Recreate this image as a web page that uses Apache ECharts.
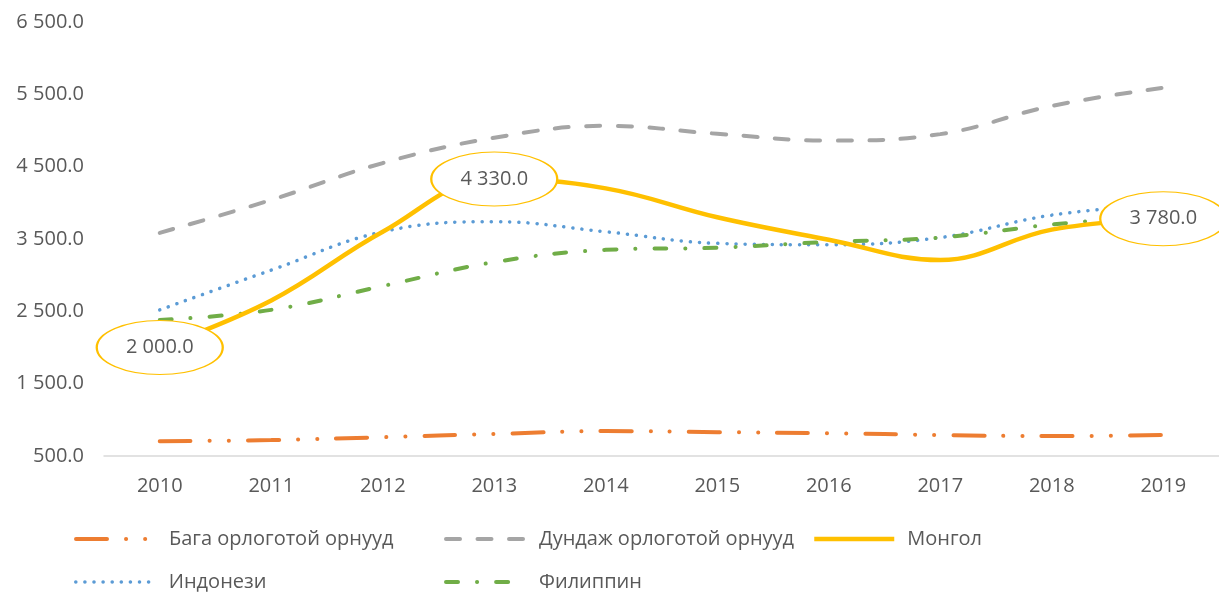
<!DOCTYPE html>
<html>
<head>
<meta charset="utf-8">
<script src="https://cdn.jsdelivr.net/npm/echarts@6/dist/echarts.min.js"></script>
<style>
  html, body { margin: 0; padding: 0; background: #fff; }
  #chart { width: 1219px; height: 594px; }
</style>
</head>
<body>
<div id="chart"></div>
<script>
var years = ["2010", "2011", "2012", "2013", "2014", "2015", "2016", "2017", "2018", "2019"];
var lowIncome = [705, 720, 760, 805, 845, 830, 815, 790, 775, 790];
var middleIncome = [3585, 4040, 4550, 4900, 5065, 4955, 4860, 4950, 5340, 5590];
var mongolia = [2000, 2650, 3600, 4330, 4200, 3800, 3490, 3210, 3630, 3780];
var indonesia = [2520, 3070, 3600, 3740, 3600, 3440, 3420, 3520, 3830, 3980];
var philippines = [2380, 2520, 2850, 3180, 3350, 3380, 3460, 3520, 3700, 3830];
var labelledIdx = [0, 3, 9];
var names = ["Бага орлоготой орнууд", "Дундаж орлоготой орнууд", "Монгол", "Индонези", "Филиппин"];

var FONT = "Open Sans";
var TXT = "#595959";

// 6 500.0 style numbers
function fmt(v) {
  var s = Number(v).toFixed(1).split(".");
  return s[0].replace(/\B(?=(\d{3})+(?!\d))/g, " ") + "." + s[1];
}

var chart = echarts.init(document.getElementById("chart"));

// one legend per entry so each sits in its own column like the original
function mkLegend(name, left, top, lw) {
  return {
    data: [name],
    left: left,
    top: top,
    itemWidth: 80,
    itemHeight: 14,
    itemGap: 0,
    padding: 0,
    itemStyle: { opacity: 0 },
    lineStyle: { width: lw },
    textStyle: { fontFamily: FONT, fontSize: 20, color: TXT, padding: [0, 0, 0, 8] }
  };
}

var option = {
  animation: false,
  backgroundColor: "#fff",
  grid: { left: 104, right: 0, top: 22, bottom: 138 },
  legend: [
    mkLegend(names[0], 74, 529, 4),
    mkLegend(names[1], 444, 529, 4),
    mkLegend(names[2], 812, 529, 4.5),
    mkLegend(names[3], 74, 572, 3.5),
    mkLegend(names[4], 444, 572, 4)
  ],
  xAxis: {
    type: "category",
    data: years,
    boundaryGap: true,
    axisLine: { lineStyle: { color: "#D9D9D9", width: 1.5 } },
    axisTick: { show: false },
    axisLabel: { fontFamily: FONT, fontSize: 20, color: TXT, margin: 20 }
  },
  yAxis: {
    type: "value",
    min: 500,
    max: 6500,
    interval: 1000,
    splitLine: { show: false },
    axisLine: { show: false },
    axisTick: { show: false },
    axisLabel: { fontFamily: FONT, fontSize: 20, color: TXT, margin: 20, formatter: fmt }
  },
  series: [
    {
      name: names[0],
      type: "line",
      data: lowIncome,
      smooth: 0.4,
      symbol: "none",
      color: "#ED7D31",
      lineStyle: { color: "#ED7D31", width: 4, type: [31, 19, 0.1, 19, 0.1, 19], cap: "round" }
    },
    {
      name: names[1],
      type: "line",
      data: middleIncome,
      smooth: 0.4,
      symbol: "none",
      color: "#A5A5A5",
      lineStyle: { color: "#A5A5A5", width: 4, type: [14, 17.5], cap: "round" }
    },
    {
      name: names[3],
      type: "line",
      data: indonesia,
      smooth: 0.4,
      symbol: "none",
      color: "#5B9BD5",
      lineStyle: { color: "#5B9BD5", width: 3.5, type: [0.1, 9], cap: "round" }
    },
    {
      name: names[4],
      type: "line",
      data: philippines,
      smooth: 0.4,
      symbol: "none",
      color: "#70AD47",
      lineStyle: { color: "#70AD47", width: 4, type: [12, 19, 0.1, 19], cap: "round" }
    },
    {
      name: names[2],
      type: "line",
      data: mongolia,
      smooth: 0.4,
      symbol: "none",
      color: "#FFC000",
      z: 3,
      lineStyle: { color: "#FFC000", width: 4.5 },
      markPoint: {
        symbol: "circle",
        symbolSize: [126, 54],
        itemStyle: { color: "#fff", borderColor: "#FFC000", borderWidth: 1.5 },
        label: {
          show: true,
          position: "inside",
          fontFamily: FONT,
          fontSize: 20,
          color: TXT,
          formatter: function (p) { return fmt(p.value); }
        },
        data: labelledIdx.map(function (i) {
          return { coord: [years[i], mongolia[i]], value: mongolia[i] };
        })
      }
    }
  ]
};

chart.setOption(option);
</script>
</body>
</html>
